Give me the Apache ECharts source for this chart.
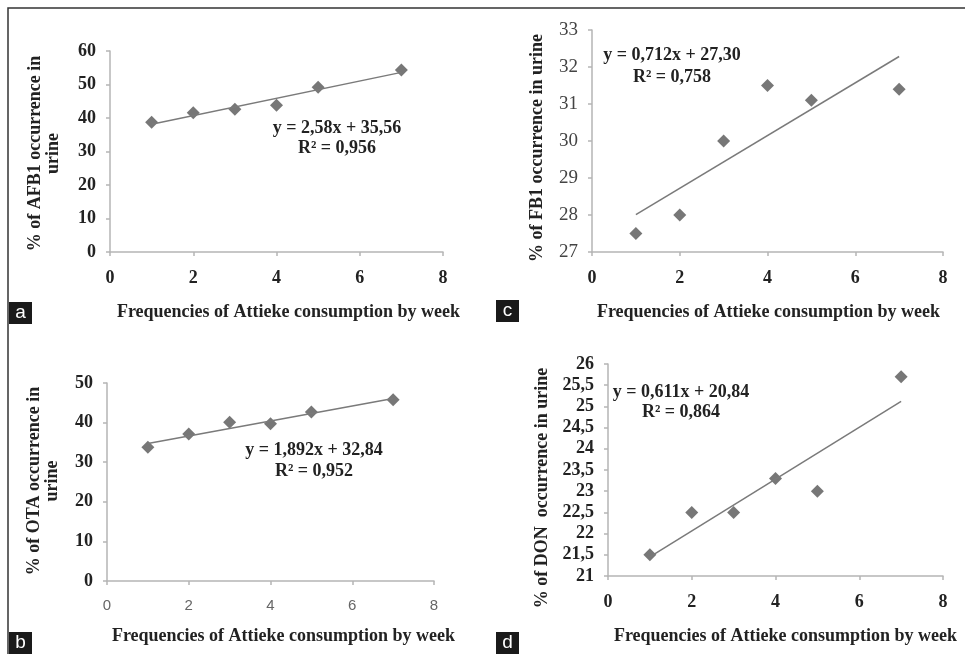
<!DOCTYPE html>
<html>
<head>
<meta charset="utf-8">
<script src="https://cdn.jsdelivr.net/npm/echarts@6/dist/echarts.min.js"></script>
<style>html,body{margin:0;padding:0;background:#fff;}#c{width:965px;height:654px;}</style>
</head>
<body>
<div id="c"></div>
<script>
// ---- data ----
const freq = [1, 2, 3, 4, 5, 7];
const afb1 = [38.7, 41.6, 42.6, 43.8, 49.2, 54.3];
const fb1  = [27.5, 28.0, 30.0, 31.5, 31.1, 31.4];
const ota  = [33.8, 37.1, 40.1, 39.7, 42.7, 45.8];
const don  = [21.5, 22.5, 22.5, 23.3, 23.0, 25.7];
const panelLetters = ['a', 'c', 'b', 'd'];
const yTitles = ['% of AFB1 occurrence in\nurine', '% of FB1 occurrence in urine', '% of OTA occurrence in\nurine', '% of DON  occurrence in urine'];
const xTitle = 'Frequencies of Attieke consumption by week';
const slopes = [2.58, 0.712, 1.892, 0.611];
const intercepts = [35.56, 27.30, 32.84, 20.84];
const eqTexts = ['y = 2,58x + 35,56\nR² = 0,956', 'y = 0,712x + 27,30\nR² = 0,758', 'y = 1,892x + 32,84\nR² = 0,952', 'y = 0,611x + 20,84\nR² = 0,864'];
const yMin = [0, 27, 0, 21];
const yMax = [60, 33, 50, 26];
const yInt = [10, 1, 10, 0.5];
const xMin = 0, xMax = 8, xInt = 2;
const trendX = [1, 7];

const series = [afb1, fb1, ota, don];
const serif = '"Liberation Serif", "Times New Roman", serif';
const grids = [
  {left: 110, top: 51, width: 333, height: 201},
  {left: 592, top: 30, width: 351, height: 222},
  {left: 107, top: 383, width: 327, height: 198},
  {left: 608, top: 364, width: 335, height: 212}
];
const yNameGap = [48, 46, 46, 57];
const yNamePad = [[0, 4, 0, 0], [0, 14, 0, 0], [0, 0, 0, 2], [0, 36, 0, 0]];
const xNameGap = [51, 51, 46, 51];
const xNamePad = [24, 2, 26, 20];
const yLabelStyle = [
  {fontFamily: serif, fontWeight: 'bold', fontSize: 18, color: '#222'},
  {fontFamily: serif, fontWeight: 'normal', fontSize: 19, color: '#444'},
  {fontFamily: serif, fontWeight: 'bold', fontSize: 18, color: '#222'},
  {fontFamily: serif, fontWeight: 'bold', fontSize: 18, color: '#222'}
];
const xLabelStyle = [
  {fontFamily: serif, fontWeight: 'bold', fontSize: 18, color: '#222'},
  {fontFamily: serif, fontWeight: 'bold', fontSize: 18, color: '#222'},
  {fontFamily: '"Liberation Sans", Arial, sans-serif', fontWeight: 'normal', fontSize: 15, color: '#666'},
  {fontFamily: serif, fontWeight: 'bold', fontSize: 18, color: '#222'}
];
const eqPos = [[337, 118], [672, 44], [314, 440], [681, 382]];
const eqLH = [20, 22, 21, 20];
const boxPos = [[9, 302], [496, 300], [9, 632], [496, 632]];

const axisLine = {show: true, lineStyle: {color: '#b5b5b5', width: 1.5}};
const axisTick = {show: true, length: 4, lineStyle: {color: '#b5b5b5', width: 1.5}};

const option = {
  animation: false,
  backgroundColor: '#fff',
  grid: grids.map(g => Object.assign({containLabel: false}, g)),
  xAxis: grids.map((g, i) => ({
    type: 'value', gridIndex: i, min: xMin, max: xMax, interval: xInt,
    axisLine, axisTick, splitLine: {show: false},
    axisLabel: Object.assign({margin: 17}, xLabelStyle[i]),
    name: xTitle, nameLocation: 'middle', nameGap: xNameGap[i],
    nameTextStyle: {fontFamily: serif, fontWeight: 'bold', fontSize: 18, color: '#222', padding: [0, 0, 0, xNamePad[i]]}
  })),
  yAxis: grids.map((g, i) => ({
    type: 'value', gridIndex: i, min: yMin[i], max: yMax[i], interval: yInt[i],
    axisLine, axisTick, splitLine: {show: false},
    axisLabel: Object.assign({margin: 14, formatter: v => String(v).replace('.', ',')}, yLabelStyle[i]),
    name: yTitles[i], nameLocation: 'middle', nameGap: yNameGap[i], nameRotate: 90,
    nameTextStyle: {fontFamily: serif, fontWeight: 'bold', fontSize: 18, color: '#222', lineHeight: 18, padding: yNamePad[i]}
  })),
  series: [],
  graphic: []
};

series.forEach((vals, i) => {
  option.series.push({
    type: 'line', xAxisIndex: i, yAxisIndex: i, showSymbol: false, silent: true,
    lineStyle: {color: '#7a7a7a', width: 1.5},
    data: trendX.map(x => [x, slopes[i] * x + intercepts[i]])
  });
  option.series.push({
    type: 'scatter', xAxisIndex: i, yAxisIndex: i, symbol: 'diamond', symbolSize: 13,
    itemStyle: {color: '#555'},
    data: freq.map((x, k) => [x, vals[k]])
  });
  option.graphic.push({
    type: 'text', x: eqPos[i][0], y: eqPos[i][1],
    style: {text: eqTexts[i], fontFamily: serif, fontWeight: 'bold', fontSize: 18, fill: '#222', align: 'center', verticalAlign: 'top', lineHeight: eqLH[i]}
  });
  option.graphic.push({
    type: 'group', x: boxPos[i][0], y: boxPos[i][1],
    children: [
      {type: 'rect', shape: {x: 0, y: 0, width: 23, height: 22}, style: {fill: '#1a1a1a'}},
      {type: 'text', x: 11.5, y: 11, style: {text: panelLetters[i], fill: '#fff', fontFamily: '"Liberation Sans", Arial, sans-serif', fontSize: 19, align: 'center', verticalAlign: 'middle'}}
    ]
  });
});
option.graphic.push({type: 'polyline', shape: {points: [[8, 654], [8, 8], [965, 8]]}, style: {stroke: '#333', lineWidth: 1.5, fill: null}});

const chart = echarts.init(document.getElementById('c'));
chart.setOption(option);
</script>
</body>
</html>
